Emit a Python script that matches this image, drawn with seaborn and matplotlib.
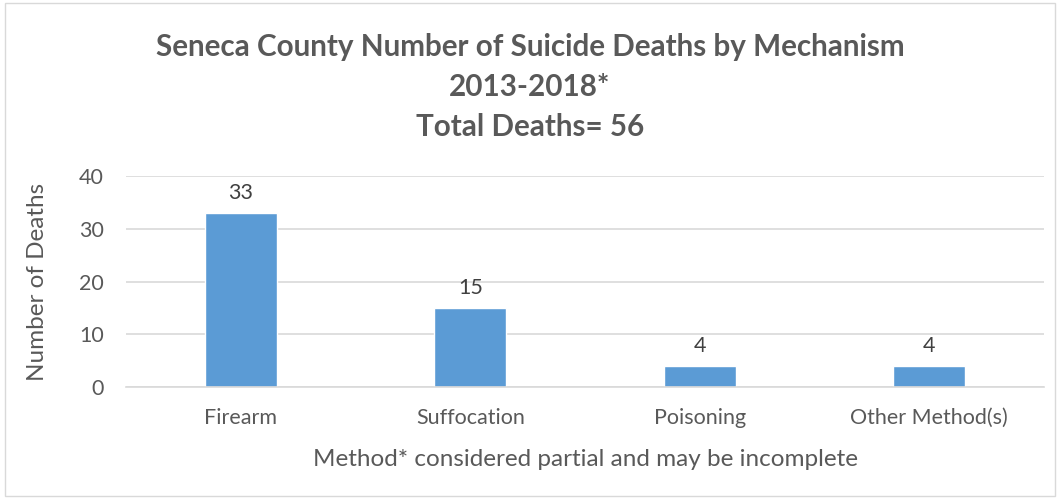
import pandas as pd
import matplotlib.pyplot as plt
import seaborn as sns
from matplotlib.patches import Rectangle

mechanisms = ['Firearm', 'Suffocation', 'Poisoning', 'Other Method(s)']
deaths = [33, 15, 4, 4]
yticks = [0, 10, 20, 30, 40]
title_lines = ['Seneca County Number of Suicide Deaths by Mechanism', '2013-2018*', 'Total Deaths= 56']

df = pd.DataFrame({'Mechanism': mechanisms, 'Deaths': deaths})

sns.set_style('white')
plt.rcParams['font.family'] = ['Lato', 'DejaVu Sans']
txt = '#595959'

fig = plt.figure(figsize=(10.6, 5.01), dpi=100)
ax = fig.add_axes([0.1189, 0.2275, 0.866, 0.4212])

sns.barplot(x='Mechanism', y='Deaths', data=df, color='#5B9BD5', width=0.314,
            saturation=1, ax=ax)

for i, v in enumerate(deaths):
    ax.annotate(str(v), (i, v), xytext=(0, 7), textcoords='offset points',
                ha='center', va='bottom', fontsize=15.5, color='#404040')

ax.set_ylim(0, 40)
ax.set_yticks(yticks)
ax.set_xlim(-0.5, 3.5)
ax.yaxis.grid(True, color='#D9D9D9', linewidth=1.2)
ax.set_axisbelow(True)
for s in ['top', 'right', 'left']:
    ax.spines[s].set_visible(False)
ax.spines['bottom'].set_color('#D9D9D9')
ax.spines['bottom'].set_linewidth(1.2)
ax.tick_params(axis='both', length=0, labelsize=15.5, labelcolor=txt)
ax.tick_params(axis='x', pad=15)
ax.tick_params(axis='y', pad=16)

ax.set_xlabel('Method* considered partial and may be incomplete', fontsize=17.5,
              color=txt, labelpad=15)
ax.set_ylabel('Number of Deaths', fontsize=17.5, color=txt, labelpad=22)

for yy, line in zip([0.906, 0.826, 0.7465], title_lines):
    fig.text(0.5, yy, line, ha='center', va='center', fontsize=21.3,
             fontweight='bold', color=txt)

fig.patches.append(Rectangle((0.005, 0.01), 0.99, 0.985, transform=fig.transFigure,
                             fill=False, edgecolor='#D9D9D9', linewidth=1))

fig.savefig('out.png', dpi=100, facecolor='white')
